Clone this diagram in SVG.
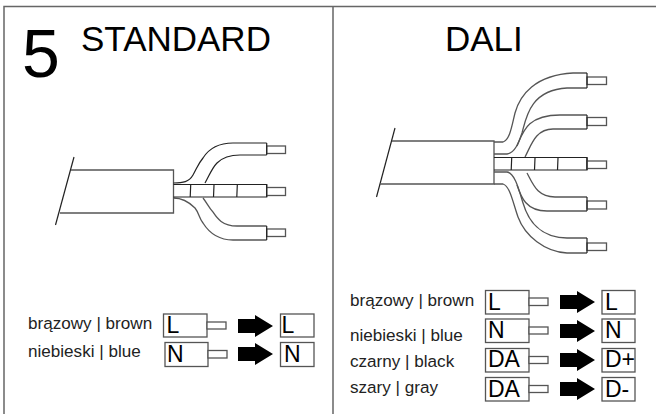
<svg xmlns="http://www.w3.org/2000/svg" xmlns:xlink="http://www.w3.org/1999/xlink" width="656" height="414" viewBox="0 0 656 414">
<style>
text{font-family:"Liberation Sans",Arial,sans-serif;fill:#000}
.leg{font-size:17.1px;fill:#222}
.box{font-size:23px}
.title{font-size:35px}
.frame{fill:none;stroke:#666;stroke-width:1.5}
.w{fill:none;stroke:#555;stroke-width:1.3}
.k{fill:none;stroke:#222;stroke-width:1.2}
.r{fill:#fff;stroke:#555;stroke-width:1.3}
</style>
<defs>
<polygon id="arrow" points="0,-7 17,-7 17,-11 35,0 17,11 17,7 0,7" fill="#000"/>
</defs>
<rect width="656" height="414" fill="#fff"/>
<path class="frame" d="M4,414V6.500H656M333,6.500V414"/>
<text x="22" y="77" font-size="68" font-family="Liberation Sans">5</text>
<text class="title" x="81" y="51">STANDARD</text>
<text class="title" x="445" y="51">DALI</text>

<g id="cable-standard">
<path class="k" d="M74,157L55.500,225"/>
<path class="w" d="M71,170H173.500V213H60"/>
<path class="k" d="M173.500,183C183,183 189,182 193,175C197,168 198,164 203,158C208,150 216,143 233,143H266.700M205,183C209,176 212,168 217,163C222,158 230,155 240,155H266.700"/>
<path class="w" d="M173.500,198C183,198 189,202 195,208C199,213 199,218 203,223C208,231 216,240 233,240H266.700M203,198C207,203 209,208 213,212C217,218 222,226 237,226H266.700"/>
<path class="k" d="M173.500,184.500H266.700V197H173.500M190.700,185L190.200,197M214,185L213.500,197M237.300,185L236.800,197"/>
<rect class="r" x="266.700" y="146" width="18.800" height="7.500"/>
<rect class="r" x="266.700" y="187.500" width="18.800" height="8"/>
<rect class="r" x="266.700" y="229" width="18.800" height="7.500"/>
<path class="k" d="M266.700,143V155M266.700,184.500V197M266.700,226V240"/>
</g>

<g id="cable-dali">
<path class="k" d="M395,128L376.500,197"/>
<path class="w" d="M392,141H494V184H380"/>
<path class="w" d="M494,142H503C510,140 512,125 515,113C520,95 535,75 573,73H587M494,154H507C515,153 519,142 522,133C526,118 530,90 567,88H587"/>
<path class="w" d="M517,146C523,132 527,115 560,115H587M525,157C531,146 535,129 553,129H587"/>
<path class="w" d="M527,173C533,184 537,197 555,197H587M517,185C521,197 526,211 547,211H587"/>
<path class="w" d="M494,172H507C515,173 519,190 523,203C528,220 540,238 567,238H587M494,184H503C510,186 513,203 518,217C525,236 545,252 567,253H587"/>
<path class="k" d="M494,157.500H587V170H494M511.700,158L511.200,170M535,158L534.500,170M558,158L557.500,170"/>
<rect class="r" x="587" y="77" width="19.500" height="7.500"/>
<rect class="r" x="587" y="117.500" width="19.500" height="8"/>
<rect class="r" x="587" y="161" width="19.500" height="7.500"/>
<rect class="r" x="587" y="201" width="19.500" height="8"/>
<rect class="r" x="587" y="243" width="19.500" height="7.500"/>
<path class="k" d="M587,73V88M587,115V129M587,157.500V170M587,197V211M587,238V253"/>
</g>

<g id="legend-standard-l">
<text class="leg" x="28" y="329">brązowy | brown</text>
<rect class="r" x="163.500" y="314" width="43.500" height="23"/>
<rect class="r" x="207" y="322" width="19" height="7"/>
<text class="box" x="166.500" y="333">L</text>
<use xlink:href="#arrow" href="#arrow" x="238" y="326"/>
<rect class="r" x="280.500" y="314" width="33.500" height="23"/>
<text class="box" x="281.500" y="333">L</text>
</g>
<g id="legend-standard-n">
<text class="leg" x="28" y="357">niebieski | blue</text>
<rect class="r" x="165" y="342.500" width="43" height="24"/>
<rect class="r" x="208" y="350.500" width="19" height="7.500"/>
<text class="box" x="167" y="362">N</text>
<use xlink:href="#arrow" href="#arrow" x="238" y="354"/>
<rect class="r" x="280.500" y="342.500" width="33.500" height="24"/>
<text class="box" x="284" y="362">N</text>
</g>
<g id="legend-dali-l">
<text class="leg" x="350" y="306">brązowy | brown</text>
<rect class="r" x="485.500" y="290.500" width="43.500" height="23.500"/>
<rect class="r" x="529" y="298" width="19" height="7.500"/>
<text class="box" x="488" y="310">L</text>
<use xlink:href="#arrow" href="#arrow" x="560" y="302"/>
<rect class="r" x="602" y="290.500" width="33" height="23.500"/>
<text class="box" x="605" y="310">L</text>
</g>
<g id="legend-dali-n">
<text class="leg" x="350" y="341">niebieski | blue</text>
<rect class="r" x="485.500" y="319" width="43.500" height="23.500"/>
<rect class="r" x="529" y="327" width="19" height="7"/>
<text class="box" x="488" y="338">N</text>
<use xlink:href="#arrow" href="#arrow" x="560" y="331"/>
<rect class="r" x="602" y="319" width="33" height="23.500"/>
<text class="box" x="605" y="338">N</text>
</g>
<g id="legend-dali-black">
<text class="leg" x="350" y="367">czarny | black</text>
<rect class="r" x="485.500" y="348.500" width="43.500" height="23.500"/>
<rect class="r" x="529" y="356.500" width="19" height="7"/>
<text class="box" x="488" y="367">DA</text>
<use xlink:href="#arrow" href="#arrow" x="560" y="360"/>
<rect class="r" x="602" y="348.500" width="33" height="23.500"/>
<text class="box" x="605" y="367">D+</text>
</g>
<g id="legend-dali-gray">
<text class="leg" x="350" y="393">szary | gray</text>
<rect class="r" x="485.500" y="377.500" width="43.500" height="23.500"/>
<rect class="r" x="529" y="385.500" width="19" height="7"/>
<text class="box" x="488" y="397">DA</text>
<use xlink:href="#arrow" href="#arrow" x="560" y="389"/>
<rect class="r" x="602" y="377.500" width="33" height="23.500"/>
<text class="box" x="605" y="397">D-</text>
</g>
</svg>
